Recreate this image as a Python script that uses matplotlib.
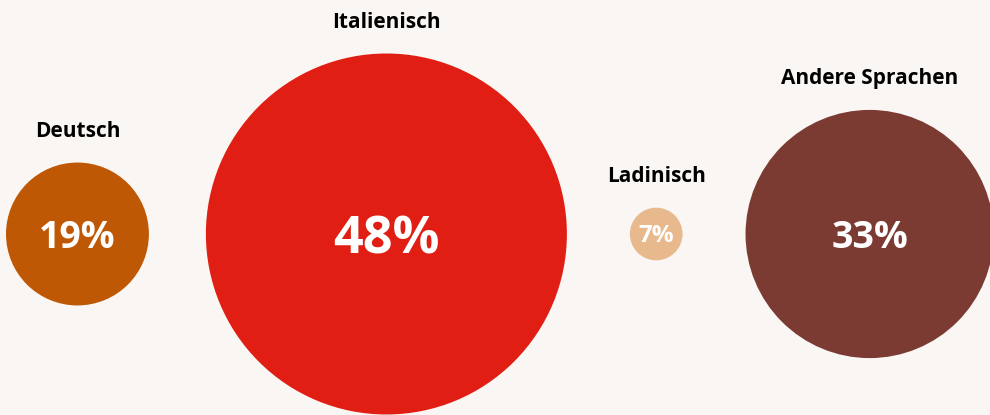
import matplotlib.pyplot as plt
from matplotlib.patches import Circle

# Sprachgruppen und Anteile in Prozent
sprachen = ["Deutsch", "Italienisch", "Ladinisch", "Andere Sprachen"]
anteile = [19, 48, 7, 33]
farben = ["#bf5805", "#e01e14", "#e8b98c", "#7b3b33"]
prozent_groesse = [27, 37.5, 17.5, 27]

bg = "#f9f6f3"
W, H = 990, 415

fig = plt.figure(figsize=(W / 100, H / 100), dpi=100, facecolor=bg)
ax = fig.add_axes([0, 0, 1, 1])
ax.set_xlim(0, W)
ax.set_ylim(H, 0)
ax.set_facecolor(bg)
ax.axis("off")

# Radius proportional zum Anteil, Kreise nebeneinander
r_max = 180.5
cy = 234
x = 6
abstaende = [57, 63, 63, 0]
for name, wert, farbe, fs, gap in zip(sprachen, anteile, farben, prozent_groesse, abstaende):
    r = wert / max(anteile) * r_max
    cx = x + r
    ax.add_patch(Circle((cx, cy), r, color=farbe, lw=0))
    ax.text(cx, cy - 1, f"{wert}%", ha="center", va="center_baseline", color="white",
            fontsize=fs, fontweight="bold", family="Open Sans")
    ax.text(cx, cy - r - 31, name, ha="center", va="center", color="black",
            fontsize=15, fontweight="bold", family="Open Sans")
    x = cx + r + gap

fig.savefig("out.png", dpi=100, facecolor=bg)
